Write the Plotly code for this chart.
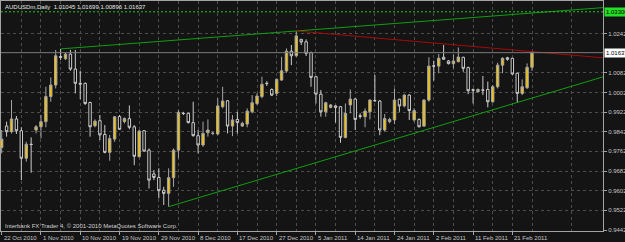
import plotly.graph_objects as go

# ---------------- data (AUDUSDm daily) ----------------
opens = [0.9778, 0.9865, 0.9842, 0.9894, 0.9846, 0.9734, 0.9791, 0.9849, 0.9862, 0.9883,
         0.9985, 1.0032, 1.0148, 1.0139, 1.0158, 1.0097, 1.0039, 1.0039, 0.9961, 0.9866,
         0.9887, 0.9831, 0.9758, 0.9812, 0.9904, 0.9883, 0.9895, 0.9862, 0.9740, 0.9846,
         0.9767, 0.9670, 0.9656, 0.9604, 0.9591, 0.9655, 0.9767, 0.9917, 0.9917, 0.9879,
         0.9826, 0.9788, 0.9838, 0.9835, 0.9833, 0.9944, 0.9968, 0.9865, 0.9892, 0.9865,
         0.9873, 0.9923, 0.9957, 0.9985, 1.0039, 1.0014, 0.9998, 1.0052, 1.0089, 1.0170,
         1.0151, 1.0218, 1.0208, 1.0164, 1.0066, 0.9995, 0.9923, 0.9941, 0.9947, 0.9944,
         0.9819, 0.9951, 0.9975, 0.9907, 0.9903, 0.9923, 0.9969, 0.9967, 0.9849, 0.9883,
         0.9890, 0.9974, 0.9947, 0.9991, 0.9890, 0.9892, 0.9865, 0.9971, 1.0110, 1.0109,
         1.0145, 1.0130, 1.0119, 1.0127, 1.0145, 1.0103, 1.0013, 1.0005, 1.0012, 1.0014,
         0.9964, 1.0025, 1.0113, 1.0143, 1.0141, 1.0080, 0.9998, 1.0021, 1.01045]
highs = [0.9849, 0.9883, 0.9971, 0.9906, 0.9860, 0.9801, 0.9819, 0.9869, 0.9910, 1.0025,
         1.0063, 1.0175, 1.0179, 1.0164, 1.0175, 1.0175, 1.0090, 1.0042, 0.9964, 0.9892,
         0.9910, 0.9869, 0.9829, 0.9906, 0.9910, 0.9900, 0.9949, 0.9869, 0.9849, 0.9849,
         0.9774, 0.9686, 0.9693, 0.9618, 0.9693, 0.9774, 0.9930, 0.9923, 0.9919, 0.9964,
         0.9849, 0.9883, 0.9892, 0.9842, 0.9978, 1.0025, 0.9971, 0.9910, 0.9923, 0.9883,
         0.9937, 0.9991, 0.9998, 1.0066, 1.0048, 1.0018, 1.0059, 1.0147, 1.0181, 1.0195,
         1.0252, 1.0219, 1.0218, 1.0168, 1.0069, 1.0012, 0.9964, 0.9955, 0.9951, 0.9947,
         0.9957, 1.0014, 0.9978, 0.9917, 0.9937, 0.9974, 1.0073, 0.9971, 0.9914, 0.9899,
         1.0018, 0.9976, 0.9995, 0.9995, 0.9937, 0.9896, 0.9974, 1.0145, 1.0131, 1.0158,
         1.0195, 1.0134, 1.0157, 1.0185, 1.0147, 1.0107, 1.0018, 1.0018, 1.0069, 1.0046,
         1.0032, 1.0123, 1.0145, 1.0147, 1.0143, 1.0082, 1.0055, 1.0120, 1.01699]
lows = [0.9754, 0.9822, 0.9835, 0.9833, 0.9645, 0.9720, 0.9675, 0.9835, 0.9815, 0.9860,
        0.9964, 1.0018, 1.0134, 1.0134, 1.0090, 0.9998, 0.9974, 0.9951, 0.9822, 0.9860,
        0.9808, 0.9754, 0.9724, 0.9801, 0.9849, 0.9876, 0.9852, 0.9706, 0.9738, 0.9761,
        0.9611, 0.9645, 0.9571, 0.9544, 0.9537, 0.9618, 0.9734, 0.9910, 0.9876, 0.9822,
        0.9754, 0.9781, 0.9822, 0.9828, 0.9828, 0.9937, 0.9835, 0.9824, 0.9835, 0.9862,
        0.9860, 0.9917, 0.9951, 0.9978, 1.0028, 0.9987, 0.9987, 1.0050, 1.0082, 1.0113,
        1.0147, 1.0195, 1.0150, 1.0025, 0.9957, 0.9903, 0.9903, 0.9937, 0.9879, 0.9797,
        0.9815, 0.9917, 0.9849, 0.9895, 0.9860, 0.9892, 0.9964, 0.9828, 0.9842, 0.9876,
        0.9873, 0.9923, 0.9941, 0.9890, 0.9883, 0.9860, 0.9862, 0.9964, 1.0050, 1.0080,
        1.0135, 1.0116, 1.0100, 1.0124, 1.0086, 0.9995, 0.9957, 1.0001, 0.9991, 0.9941,
        0.9960, 1.0018, 1.0080, 1.0131, 1.0073, 0.9961, 0.9991, 1.0016, 1.00896]
closes = [0.9812, 0.9842, 0.9894, 0.9846, 0.9734, 0.9791, 0.9790, 0.9862, 0.9883, 0.9985,
          1.0032, 1.0151, 1.0145, 1.0158, 1.0097, 1.0039, 1.0036, 0.9957, 0.9862, 0.9885,
          0.9829, 0.9758, 0.9814, 0.9903, 0.9852, 0.9896, 0.9860, 0.9742, 0.9845, 0.9763,
          0.9645, 0.9656, 0.9602, 0.9591, 0.9655, 0.9767, 0.9921, 0.9916, 0.9879, 0.9826,
          0.9788, 0.9835, 0.9849, 0.9836, 0.9947, 0.9967, 0.9865, 0.9890, 0.9879, 0.9876,
          0.9926, 0.9960, 0.9987, 1.0035, 1.0038, 0.9991, 1.0055, 1.0090, 1.0170, 1.0151,
          1.0232, 1.0207, 1.0161, 1.0063, 0.9995, 0.9923, 0.9960, 0.9951, 0.9941, 0.9819,
          0.9917, 0.9975, 0.9892, 0.9905, 0.9926, 0.9971, 0.9968, 0.9849, 0.9896, 0.9892,
          0.9971, 0.9947, 0.9991, 0.9928, 0.9928, 0.9862, 0.9971, 1.0109, 1.0109, 1.0141,
          1.0137, 1.0119, 1.0130, 1.0146, 1.0100, 1.0009, 1.0011, 1.0014, 1.0011, 0.9964,
          1.0025, 1.0113, 1.0141, 1.0137, 1.0077, 0.9998, 1.0025, 1.0104, 1.01637]

tick_labels = ["22 Oct 2010", "1 Nov 2010", "10 Nov 2010", "19 Nov 2010", "29 Nov 2010",
               "8 Dec 2010", "17 Dec 2010", "27 Dec 2010", "5 Jan 2011", "14 Jan 2011",
               "24 Jan 2011", "2 Feb 2011", "11 Feb 2011", "21 Feb 2011"]
bars_per_label = 8
bars_per_grid = 4
price_ticks = [0.9442, 0.9522, 0.9602, 0.9682, 0.9762, 0.9842, 0.9922, 1.0002, 1.0082, 1.0242]
level_price = 1.033
symbol = "AUDUSDm,Daily"
trend_upper = [(12, 1.0179), (60, 1.0252)]
trend_red = [(60, 1.0252), (108, 1.0168)]
trend_lower = [(34, 0.9537), (105, 0.9961)]

# ---------------- figure ----------------
bars = list(range(len(opens)))
X_MIN, X_MAX = -0.14, 122.46
Y_MIN, Y_MAX = 0.9438, 1.0374
BG = "#141414"
GRID = "#4c4c4c"
FRAME = "#a4a4a4"
TXT = "#c4c4c4"
FONT = "Liberation Sans"

fig = go.Figure()

fig.add_trace(go.Candlestick(
    x=bars, open=opens, high=highs, low=lows, close=closes,
    increasing=dict(fillcolor="#f5c400", line=dict(color="#a6a6a6", width=1)),
    decreasing=dict(fillcolor="#050505", line=dict(color="#cccccc", width=1)),
    whiskerwidth=0, showlegend=False, hoverinfo="skip",
))


def ray(anchor, color):
    (i1, p1), (i2, p2) = anchor
    slope = (p2 - p1) / (i2 - i1)
    xe = X_MAX + 1
    return go.Scatter(x=[i1, xe], y=[p1, p1 + slope * (xe - i1)], mode="lines",
                      line=dict(color=color, width=1), showlegend=False, hoverinfo="skip")


fig.add_trace(ray(trend_upper, "#109e10"))
fig.add_trace(ray(trend_red, "#a60a0a"))
fig.add_trace(ray(trend_lower, "#109e10"))

# horizontal level and bid line
fig.add_shape(type="line", xref="paper", x0=0, x1=1, yref="y", y0=level_price, y1=level_price,
              line=dict(color="#22c822", width=1, dash="2px,2px"))
fig.add_shape(type="line", xref="paper", x0=0, x1=1, yref="y", y0=closes[-1], y1=closes[-1],
              line=dict(color="#7c7c7c", width=1))

annotations = []
for k, lab in enumerate(tick_labels):
    annotations.append(dict(x=k * bars_per_label, xref="x", y=0, yref="paper",
                            xanchor="left", yanchor="middle", xshift=0, yshift=-6.5,
                            text=lab, showarrow=False, font=dict(size=6, color=TXT, family=FONT)))
header = f"{symbol}\u00a0\u00a0{opens[-1]:.5f} {highs[-1]:.5f} {lows[-1]:.5f} {closes[-1]:.5f}"
annotations.append(dict(x=0, xref="paper", y=1, yref="paper", xanchor="left", yanchor="middle",
                        xshift=1.5, yshift=-5.5, text=header, showarrow=False,
                        font=dict(size=6, color="#e6e6e6", family=FONT)))
annotations.append(dict(x=0, xref="paper", y=0, yref="paper", xanchor="left", yanchor="middle",
                        xshift=1.5, yshift=5.5,
                        text="Interbank FX Trader 4, \u00a9 2001-2010 MetaQuotes Software Corp.",
                        showarrow=False, font=dict(size=6, color="#d0d0d0", family=FONT)))
annotations.append(dict(x=1, xref="paper", y=level_price, yref="y", xanchor="left", yanchor="middle",
                        xshift=1, text=f"{level_price:.5f}", showarrow=False, bgcolor="#22e022",
                        borderpad=1, font=dict(size=6, color="#000000", family=FONT)))
annotations.append(dict(x=1, xref="paper", y=closes[-1], yref="y", xanchor="left", yanchor="middle",
                        xshift=1, text=f"{closes[-1]:.5f}", showarrow=False, bgcolor="#ffffff",
                        borderpad=1, font=dict(size=6, color="#000000", family=FONT)))

major_x = list(range(0, len(opens), bars_per_label))
minor_x = [v for v in range(0, int(X_MAX) + 1, bars_per_grid) if v % bars_per_label != 0]

fig.update_layout(
    width=625, height=242,
    margin=dict(l=1, r=22, t=1, b=11, autoexpand=False),
    paper_bgcolor=BG, plot_bgcolor=BG,
    font=dict(family=FONT, size=6, color=TXT),
    showlegend=False,
    annotations=annotations,
    xaxis=dict(range=[X_MIN, X_MAX], tickmode="array", tickvals=major_x, showticklabels=False,
               ticks="outside", ticklen=3, tickcolor=FRAME, tickwidth=1,
               showgrid=True, gridcolor=GRID, griddash="dot", gridwidth=1,
               minor=dict(tickmode="array", tickvals=minor_x, showgrid=True, gridcolor=GRID,
                          griddash="dot", gridwidth=1, ticks=""),
               showline=True, linecolor=FRAME, linewidth=1, mirror=True, zeroline=False,
               rangeslider=dict(visible=False), fixedrange=True),
    yaxis=dict(range=[Y_MIN, Y_MAX], side="right", tickmode="array", tickvals=price_ticks,
               ticktext=[f"{v:.5f}" for v in price_ticks], ticks="outside", ticklen=3,
               tickcolor=FRAME, tickfont=dict(size=6, color=TXT, family=FONT),
               showgrid=True, gridcolor=GRID, griddash="dot", gridwidth=1,
               showline=True, linecolor=FRAME, linewidth=1, mirror=True, zeroline=False,
               automargin=False, fixedrange=True),
)

fig.write_html("out.html")
